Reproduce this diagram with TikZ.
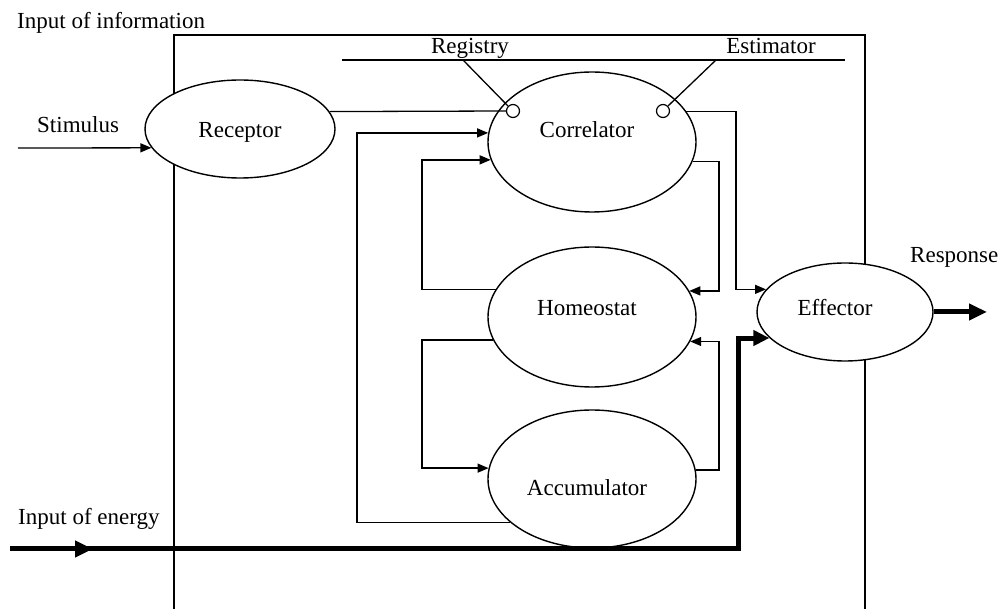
\documentclass[tikz,border=0pt]{standalone}
\usepackage{fontspec}
\setmainfont{Liberation Serif}
\usetikzlibrary{shapes.geometric,arrows.meta}
\begin{document}
\begin{tikzpicture}[x=1pt,y=-1pt,
  lbl/.style={inner sep=0pt,font=\fontsize{23}{27}\selectfont},
  blk/.style={draw,fill=white,ellipse,line width=1.4pt,inner sep=0pt},
  wire/.style={line width=1.3pt},
  thinarr/.style={wire,-{Triangle[length=11pt,width=9pt]}},
  thickarr/.style={line width=5pt,-{Triangle[length=18pt,width=16pt]}},
  port/.style={draw,fill=white,circle,minimum size=13pt,inner sep=0pt,line width=1.2pt}
]
\useasboundingbox (0,0) rectangle (1005,609);
% system boundary
\draw[line width=1.3pt] (174,609) -- (174,35) -- (865,35) -- (865,609);
% top rule
\draw[line width=1.3pt] (342,60) -- (845,60);

% blocks
\node[blk,minimum width=190pt,minimum height=98pt] (rec) at (240,129) {};
\node[blk,minimum width=208pt,minimum height=140pt] (cor) at (592,142) {};
\node[blk,minimum width=208pt,minimum height=140pt] (hom) at (592,317) {};
\node[blk,minimum width=208pt,minimum height=138pt] (acc) at (592,479) {};
\node[blk,minimum width=176pt,minimum height=98pt] (eff) at (845,312) {};

\node[lbl,anchor=base] (trec) at (240,138) {Receptor};
\node[lbl,anchor=base] (tcor) at (587,138) {Correlator};
\node[lbl,anchor=base] (thom) at (587,316) {Homeostat};
\node[lbl,anchor=base] (tacc) at (587,496) {Accumulator};
\node[lbl,anchor=base] (teff) at (835,316) {Effector};

% registry / estimator
\node[port] (reg) at (513,111) {};
\node[port] (est) at (663,111) {};
\node[lbl,anchor=base] (treg) at (470,54) {Registry};
\node[lbl,anchor=base] (test) at (771,54) {Estimator};
\coordinate (regl) at (463,60);
\coordinate (estl) at (716,60);
\draw[wire] (regl) -- (reg.135);
\draw[wire] (estl) -- (est.45);

% outer labels
\node[lbl,anchor=base west] (tinf) at (17,29) {Input of information};
\node[lbl,anchor=base west] (tstim) at (37,133) {Stimulus};
\node[lbl,anchor=base west] (tene) at (18,525) {Input of energy};
\node[lbl,anchor=base west] (tresp) at (910,263) {Response};

% stimulus
\coordinate (sin) at (18,148);
\draw[thinarr] (sin) -- (rec.192.2);

% receptor -> registry
\draw[wire] (rec.11.5) -- (reg.west);

% x-positions of vertical runs
\coordinate (xA) at (719,0);
\coordinate (xB) at (736,0);
\coordinate (xC) at (422,0);
\coordinate (xD) at (357,0);

% estimator -> effector
\draw[thinarr] (cor.18.4) -- (cor.18.4 -| xB) |- (eff.164.4);
% correlator -> homeostat
\draw[thinarr] (cor.349.9) -- (cor.349.9 -| xA) |- (hom.15.1);
% accumulator -> homeostat
\draw[thinarr] (acc.5.55) -- (acc.5.55 -| xA) |- (hom.346.8);
% homeostat -> correlator
\draw[thinarr] (hom.164.9) -- (hom.164.9 -| xC) |- (cor.190.1);
% homeostat -> accumulator
\draw[thinarr] (hom.193.2) -- (hom.193.2 -| xC) |- (acc.174.45);
% accumulator -> correlator
\draw[thinarr] (acc.208.8) -- (acc.208.8 -| xD) |- (cor.175);

% energy
\coordinate (ein) at (10,549);
\coordinate (emid) at (93,549);
\coordinate (ecorner) at (738,549);
\draw[line width=5pt,-{Triangle[length=16pt,width=15pt]}] (ein) -- (ecorner) |- (eff.199.2);
\draw[thickarr] (ein) -- (emid);

% response
\coordinate (rout) at (987,312);
\draw[thickarr] (eff.east) -- (rout);
\end{tikzpicture}
\end{document}
